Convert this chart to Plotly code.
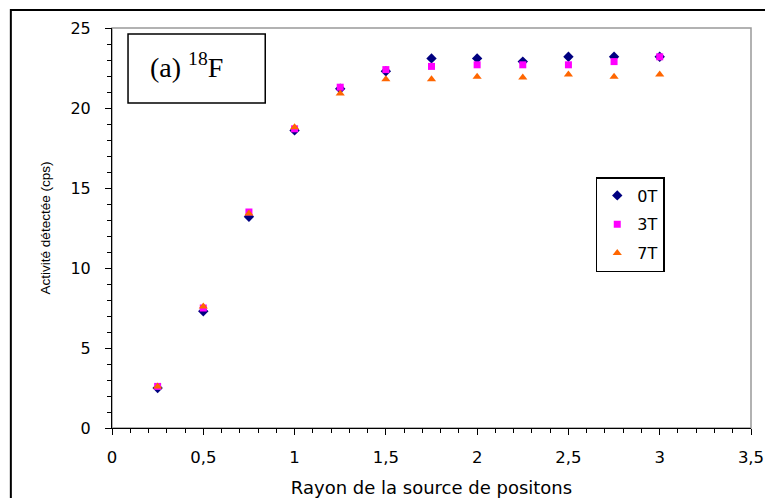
import plotly.graph_objects as go

rayon = [0.25, 0.5, 0.75, 1.0, 1.25, 1.5, 1.75, 2.0, 2.25, 2.5, 2.75, 3.0]
act_0T = [2.5, 7.3, 13.2, 18.6, 21.2, 22.3, 23.1, 23.1, 22.9, 23.2, 23.2, 23.2]
act_3T = [2.6, 7.5, 13.5, 18.7, 21.3, 22.4, 22.6, 22.7, 22.7, 22.7, 22.9, 23.2]
act_7T = [2.6, 7.6, 13.4, 18.8, 20.9, 21.8, 21.8, 21.95, 21.9, 22.1, 21.95, 22.1]

series_names = ["0T", "3T", "7T"]
series_vals = [act_0T, act_3T, act_7T]
colors = ["#000080", "#FF00FF", "#FF6600"]
symbols = ["diamond", "square", "triangle-up"]
sizes = [8, 7, 8]

fig = go.Figure()
for i, (name, vals) in enumerate(zip(series_names, series_vals)):
    fig.add_trace(go.Scatter(
        x=rayon, y=vals, mode="markers", name=name,
        legendgroup=name,
        marker=dict(symbol=symbols[i], color=colors[i], size=sizes[i], line=dict(width=0)),
    ))

font_wide = "DejaVu Sans, Verdana, sans-serif"
font_sans = "Liberation Sans, Arial, sans-serif"

# page has an 8px body margin: figure is laid out in 765x490
fig.update_layout(
    width=765, height=490,
    margin=dict(l=104, r=22, t=20, b=70),
    paper_bgcolor="white", plot_bgcolor="white",
    separators=", ",
    font=dict(family=font_wide, size=16, color="black"),
    showlegend=True,
    legend=dict(
        x=(595 - 112) / 638, y=(428 - 177) / 400, xanchor="left", yanchor="top",
        bordercolor="black", borderwidth=1.5, bgcolor="white",
        font=dict(family=font_wide, size=16, color="black"),
        tracegroupgap=5, itemwidth=30,
    ),
    xaxis=dict(
        range=[0, 3.5], dtick=0.5, tick0=0, automargin=False,
        showgrid=False, zeroline=False,
        showline=True, linecolor="black", linewidth=1,
        ticks="outside", ticklen=6, tickcolor="black",
        minor=dict(dtick=0.1, ticks="outside", ticklen=4, tickcolor="black"),
        tickfont=dict(family=font_wide, size=16.5),
        ticklabelstandoff=8,
        title=dict(text="Rayon de la source de positons",
                   font=dict(family=font_wide, size=18), standoff=17),
    ),
    yaxis=dict(
        range=[0, 25], dtick=5, tick0=0, automargin=False,
        showgrid=False, zeroline=False,
        showline=True, linecolor="black", linewidth=1,
        ticks="outside", ticklen=6, tickcolor="black",
        minor=dict(dtick=1, ticks="outside", ticklen=4, tickcolor="black"),
        tickfont=dict(family=font_wide, size=16),
        ticklabelstandoff=11,
        title=dict(text="Activité détectée (cps)",
                   font=dict(family=font_sans, size=13.5), standoff=16),
    ),
    shapes=[
        # grey plot-area border
        dict(type="rect", xref="paper", yref="paper", x0=0, y0=0, x1=1, y1=1,
             line=dict(color="#999999", width=1.5), layer="below"),
        # outer chart frame
        dict(type="rect", xref="paper", yref="paper", x0=-0.1583, y0=-0.3, x1=1.1, y1=1.045,
             line=dict(color="black", width=2), layer="below"),
        # label box
        dict(type="rect", xref="paper", yref="paper",
             x0=(128 - 112) / 638, x1=(265 - 112) / 638,
             y0=(428 - 103) / 400, y1=(428 - 34) / 400,
             line=dict(color="black", width=1.5), layer="above"),
    ],
    annotations=[
        dict(text="(a) <sup>18</sup>F", xref="paper", yref="paper",
             x=(186 - 112) / 638, y=(428 - 65) / 400, xanchor="center", yanchor="middle",
             showarrow=False,
             font=dict(family="Liberation Serif, Times New Roman, serif", size=28, color="black")),
    ],
)

fig.write_html("out.html")
